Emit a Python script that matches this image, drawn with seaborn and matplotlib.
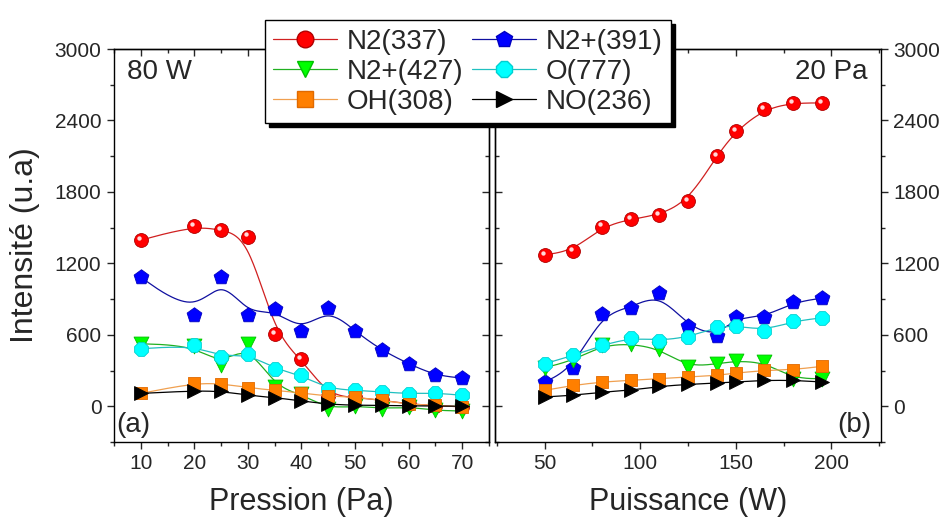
import numpy as np
import pandas as pd
import seaborn as sns
import matplotlib
matplotlib.use("Agg")
import matplotlib.pyplot as plt
from matplotlib.lines import Line2D
from matplotlib.ticker import MultipleLocator
from matplotlib.transforms import offset_copy

# ---------- data ----------
labels = ["N2(337)", "N2+(391)", "N2+(427)", "O(777)", "OH(308)", "NO(236)"]

pression = [10, 20, 25, 30, 35, 40, 45, 50, 55, 60, 65, 70]
p_n2_337 = [1395, 1515, 1480, 1425, 605, 395, 90, 75, 50, 20, 5, -5]
p_n2p_391 = [1083, 770, 1083, 770, 815, 630, 823, 630, 469, 357, 259, 237]
p_n2p_427 = [525, 510, 345, 525, 165, 100, -20, 5, -20, -5, -35, -40]
p_o_777 = [483, 511, 413, 441, 315, 259, 148, 134, 120, 106, 112, 92]
p_oh_308 = [108, 195, 190, 156, 134, 112, 84, 78, 50, 17, 8, -5]
p_no_236 = [108, 130, 126, 92, 73, 45, 17, 8, 8, 3, 3, 0]

puissance = [50, 65, 80, 95, 110, 125, 140, 150, 165, 180, 195]
w_n2_337 = [1272, 1306, 1509, 1571, 1607, 1721, 2101, 2310, 2497, 2547, 2547]
w_n2p_391 = [204, 321, 776, 826, 951, 672, 586, 748, 748, 873, 907]
w_n2p_427 = [324, 385, 511, 525, 483, 329, 357, 379, 371, 232, 232]
w_o_777 = [357, 427, 511, 575, 552, 580, 664, 678, 636, 714, 742]
w_oh_308 = [134, 176, 204, 218, 232, 246, 259, 279, 301, 307, 335]
w_no_236 = [78, 92, 120, 134, 167, 184, 195, 204, 218, 218, 204]

left_series = [p_n2_337, p_n2p_391, p_n2p_427, p_o_777, p_oh_308, p_no_236]
right_series = [w_n2_337, w_n2p_391, w_n2p_427, w_o_777, w_oh_308, w_no_236]

# ---------- styles ----------
face = ["#ff0000", "#0000ff", "#00ff00", "#00ffff", "#ff7f00", "#000000"]
edge = ["#b00000", "#0000c0", "#00c000", "#00d0d0", "#e06a00", "#000000"]
line_col = ["#d02020", "#1010a0", "#20b020", "#20c0c0", "#f0a050", "#000000"]
markers = ["o", "p", "v", "8", "s", ">"]
sizes = [100, 125, 115, 115, 85, 100]


def bspline(x, y, n=30):
    # uniform cubic B-spline with the data as control points (ends clamped)
    P = np.column_stack([x, y]).astype(float)
    P = np.vstack([P[0], P[0], P, P[-1], P[-1]])
    M = np.array([[-1, 3, -3, 1], [3, -6, 3, 0], [-3, 0, 3, 0], [1, 4, 1, 0]]) / 6.0
    t = np.linspace(0, 1, n)
    T = np.column_stack([t ** 3, t ** 2, t, np.ones_like(t)])
    segs = [T @ M @ P[i:i + 4] for i in range(len(P) - 3)]
    return np.vstack(segs)


sns.set_style("ticks")
plt.rcParams["font.family"] = ["Liberation Sans", "DejaVu Sans"]
plt.rcParams["axes.linewidth"] = 1.0

fig = plt.figure(figsize=(9.41, 5.27), dpi=100)
ax1 = fig.add_axes([0.1211, 0.1613, 0.3985, 0.7457])
ax2 = fig.add_axes([0.5260, 0.1613, 0.4102, 0.7457])


def draw_panel(ax, xs, series):
    for i, ys in enumerate(series):
        df = pd.DataFrame({"x": xs, "y": ys})
        curve = bspline(df["x"], df["y"])
        cdf = pd.DataFrame({"x": curve[:, 0], "y": curve[:, 1]})
        sns.lineplot(data=cdf, x="x", y="y", ax=ax, color=line_col[i], lw=0.9,
                     sort=False, estimator=None, zorder=3 + 2 * i)
        sns.scatterplot(data=df, x="x", y="y", ax=ax, color=face[i], marker=markers[i],
                        s=sizes[i], edgecolor=edge[i], linewidth=0.6, zorder=4 + 2 * i)
        if i == 0:
            # little highlight to mimic the shaded spheres
            hl = offset_copy(ax.transData, fig=fig, x=-1.5, y=1.5, units="points")
            sns.scatterplot(data=df, x="x", y="y", ax=ax, color="white", s=10,
                            linewidth=0, alpha=0.85, transform=hl, zorder=4.5)


draw_panel(ax1, pression, left_series)
draw_panel(ax2, puissance, right_series)

ax1.set_xlim(5, 75)
ax2.set_xlim(24, 226)
for ax in (ax1, ax2):
    ax.set_ylim(-300, 3000)
    ax.yaxis.set_major_locator(MultipleLocator(600))
    ax.yaxis.set_minor_locator(MultipleLocator(300))
    for s in ax.spines.values():
        s.set_visible(True)
        s.set_color("black")
    ax.set_ylabel("")

ax1.xaxis.set_major_locator(MultipleLocator(10))
ax1.xaxis.set_minor_locator(MultipleLocator(5))
ax2.xaxis.set_major_locator(MultipleLocator(50))
ax2.xaxis.set_minor_locator(MultipleLocator(25))

ax2.yaxis.tick_right()

for ax in (ax1, ax2):
    ax.tick_params(which="major", direction="out", length=5, width=1, labelsize=15, pad=4)
    ax.tick_params(which="minor", direction="out", length=3, width=1)

# mirrored inner ticks
top1 = ax1.secondary_xaxis("top")
top2 = ax2.secondary_xaxis("top")
right1 = ax1.secondary_yaxis("right")
left2 = ax2.secondary_yaxis("left")
for sec, loc_major, loc_minor in [(top1, 10, 5), (top2, 50, 25)]:
    sec.xaxis.set_major_locator(MultipleLocator(loc_major))
    sec.xaxis.set_minor_locator(MultipleLocator(loc_minor))
for sec in (right1, left2):
    sec.yaxis.set_major_locator(MultipleLocator(600))
    sec.yaxis.set_minor_locator(MultipleLocator(300))
for sec in (top1, top2, right1, left2):
    sec.tick_params(which="major", direction="in", length=5, width=1,
                    labelleft=False, labelright=False, labeltop=False, labelbottom=False)
    sec.tick_params(which="minor", direction="in", length=3, width=1)

ax1.set_xlabel("Pression (Pa)", fontsize=22, labelpad=10)
ax2.set_xlabel("Puissance (W)", fontsize=22, labelpad=10)
fig.text(0.027, 0.535, "Intensité (u.a)", rotation=90, fontsize=23,
         va="center", ha="center")

ax1.text(0.035, 0.975, "80 W", transform=ax1.transAxes, fontsize=20, va="top", ha="left")
ax2.text(0.965, 0.975, "20 Pa", transform=ax2.transAxes, fontsize=20, va="top", ha="right")
ax1.text(0.005, 0.01, "(a)", transform=ax1.transAxes, fontsize=20, va="bottom", ha="left")
ax2.text(0.975, 0.01, "(b)", transform=ax2.transAxes, fontsize=20, va="bottom", ha="right")

# legend, filled row by row like the original
handles = [Line2D([], [], color=line_col[i], lw=0.9, marker=markers[i], markersize=12,
                  markerfacecolor=face[i], markeredgecolor=edge[i]) for i in range(6)]
order = [0, 2, 4, 1, 3, 5]
leg = fig.legend([handles[i] for i in order], [labels[i] for i in order],
                 loc="upper center", bbox_to_anchor=(0.497, 0.988), ncol=2,
                 fontsize=20, frameon=True, fancybox=False, edgecolor="black",
                 framealpha=1, handlelength=2.3, handletextpad=0.35,
                 columnspacing=0.3, labelspacing=0.15, borderpad=0.3,
                 shadow={"color": "black", "alpha": 1, "ox": 3, "oy": -3})
leg.get_frame().set_linewidth(1.0)
leg.set_zorder(20)

fig.savefig("out.png", dpi=100)
